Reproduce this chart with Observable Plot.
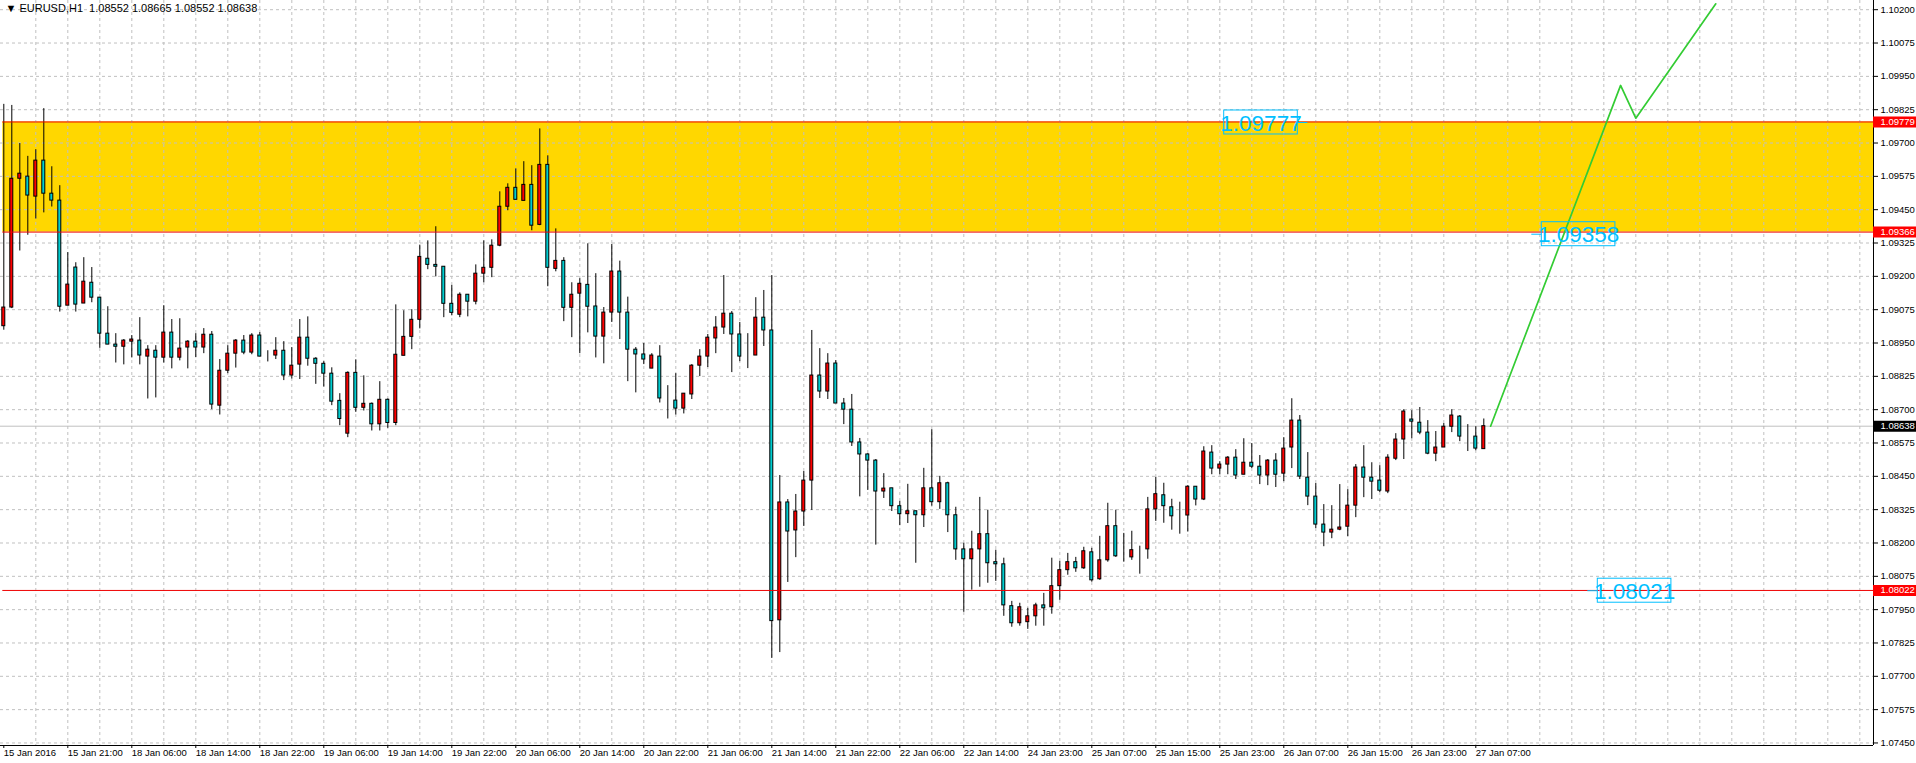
<!DOCTYPE html>
<html><head><meta charset="utf-8">
<script src="https://cdn.jsdelivr.net/npm/d3@7"></script>
<script src="https://cdn.jsdelivr.net/npm/@observablehq/plot@0.6"></script>
<style>html,body{margin:0;padding:0;background:#fff;overflow:hidden}#chart svg{display:block}</style>
</head><body><div id="chart"></div>
<script>
// ---- data ----
const symbolTitle = "EURUSD,H1";
const titleOHLC = ["1.08552", "1.08665", "1.08552", "1.08638"];
const timeLabels = ["15 Jan 2016","15 Jan 21:00","18 Jan 06:00","18 Jan 14:00","18 Jan 22:00","19 Jan 06:00","19 Jan 14:00","19 Jan 22:00","20 Jan 06:00","20 Jan 14:00","20 Jan 22:00","21 Jan 06:00","21 Jan 14:00","21 Jan 22:00","22 Jan 06:00","22 Jan 14:00","24 Jan 23:00","25 Jan 07:00","25 Jan 15:00","25 Jan 23:00","26 Jan 07:00","26 Jan 15:00","26 Jan 23:00","27 Jan 07:00"];
const priceTicks = d3.range(23).map(j => +(1.07450 + 0.00125 * j).toFixed(5));

const openP = [1.09013,1.09083,1.09566,1.09574,1.09499,1.09634,1.09510,1.09484,1.09090,1.09233,
1.09098,1.09176,1.09120,1.08985,1.08944,1.08936,1.08955,1.08959,1.08899,1.08921,
1.08895,1.08989,1.08895,1.08933,1.08955,1.08933,1.08981,1.08715,1.08846,1.08910,
1.08959,1.08914,1.08978,1.08903,1.08903,1.08921,1.08828,1.08869,1.08970,1.08891,
1.08872,1.08835,1.08733,1.08610,1.08838,1.08707,1.08722,1.08645,1.08737,1.08650,
1.08902,1.08973,1.09037,1.09266,1.09243,1.09236,1.09097,1.09056,1.09131,1.09105,
1.09210,1.09232,1.09315,1.09461,1.09532,1.09483,1.09543,1.09393,1.09618,1.09228,
1.09258,1.09082,1.09135,1.09168,1.09087,1.08974,1.09064,1.09218,1.09064,1.08925,
1.08907,1.08854,1.08899,1.08737,1.08734,1.08704,1.08757,1.08865,1.08899,1.08967,
1.09008,1.09060,1.08982,1.08902,1.08903,1.09045,1.08997,1.07910,1.08352,1.08247,
1.08318,1.08434,1.08828,1.08768,1.08873,1.08723,1.08700,1.08577,1.08532,1.08509,
1.08393,1.08405,1.08338,1.08308,1.08319,1.08304,1.08405,1.08353,1.08424,1.08304,
1.08176,1.08139,1.08176,1.08233,1.08128,1.08120,1.07963,1.07899,1.07903,1.07925,
1.07966,1.07959,1.08038,1.08098,1.08128,1.08105,1.08165,1.08064,1.08135,1.08263,
1.08150,1.08146,1.08173,1.08176,1.08326,1.08379,1.08334,1.08300,1.08303,1.08411,
1.08363,1.08539,1.08479,1.08494,1.08520,1.08456,1.08501,1.08486,1.08453,1.08509,
1.08460,1.08558,1.08659,1.08445,1.08374,1.08269,1.08239,1.08250,1.08261,1.08340,
1.08483,1.08445,1.08434,1.08393,1.08516,1.08588,1.08663,1.08651,1.08614,1.08535,
1.08558,1.08636,1.08674,1.08599,1.08599,1.08552];
const highP = [1.09845,1.09841,1.09698,1.09650,1.09675,1.09829,1.09611,1.09540,1.09289,1.09251,
1.09270,1.09233,1.09120,1.09086,1.08985,1.08963,1.08978,1.09045,1.08940,1.08940,
1.09090,1.09038,1.09041,1.08959,1.08985,1.09004,1.08993,1.08888,1.08940,1.08963,
1.08978,1.08985,1.08989,1.08921,1.08970,1.08955,1.08933,1.09038,1.09048,1.08895,
1.08880,1.08857,1.08760,1.08842,1.08887,1.08827,1.08725,1.08805,1.08740,1.09093,
1.09071,1.09075,1.09317,1.09333,1.09386,1.09236,1.09166,1.09138,1.09131,1.09243,
1.09333,1.09337,1.09517,1.09547,1.09603,1.09630,1.09615,1.09753,1.09652,1.09378,
1.09270,1.09176,1.09191,1.09322,1.09210,1.09083,1.09320,1.09257,1.09122,1.08933,
1.08948,1.08910,1.08940,1.08790,1.08835,1.08760,1.08869,1.08925,1.08982,1.09049,
1.09203,1.09068,1.09027,1.08985,1.09120,1.09147,1.09203,1.08453,1.08363,1.08382,
1.08468,1.08997,1.08929,1.08910,1.08884,1.08742,1.08757,1.08592,1.08535,1.08513,
1.08460,1.08405,1.08356,1.08420,1.08319,1.08480,1.08625,1.08450,1.08428,1.08334,
1.08199,1.08244,1.08371,1.08323,1.08173,1.08143,1.07981,1.07974,1.07955,1.07974,
1.08011,1.08143,1.08131,1.08161,1.08146,1.08184,1.08180,1.08225,1.08349,1.08323,
1.08236,1.08244,1.08188,1.08371,1.08446,1.08424,1.08364,1.08353,1.08415,1.08411,
1.08561,1.08565,1.08505,1.08524,1.08550,1.08591,1.08573,1.08528,1.08513,1.08535,
1.08595,1.08741,1.08678,1.08539,1.08423,1.08344,1.08340,1.08419,1.08400,1.08494,
1.08565,1.08501,1.08490,1.08531,1.08610,1.08700,1.08696,1.08708,1.08659,1.08618,
1.08648,1.08700,1.08678,1.08644,1.08636,1.08665];
const lowP = [1.08998,1.09079,1.09295,1.09354,1.09415,1.09438,1.09460,1.09066,1.09090,1.09066,
1.09098,1.09101,1.08930,1.08944,1.08875,1.08868,1.08894,1.08868,1.08740,1.08744,
1.08875,1.08853,1.08883,1.08853,1.08895,1.08910,1.08700,1.08680,1.08835,1.08856,
1.08906,1.08906,1.08899,1.08879,1.08888,1.08809,1.08815,1.08813,1.08863,1.08795,
1.08785,1.08715,1.08640,1.08595,1.08690,1.08695,1.08620,1.08620,1.08630,1.08640,
1.08902,1.08925,1.09003,1.09225,1.09198,1.09045,1.09052,1.09045,1.09048,1.09093,
1.09176,1.09195,1.09311,1.09446,1.09487,1.09483,1.09371,1.09390,1.09161,1.09217,
1.09030,1.08970,1.08910,1.08988,1.08894,1.08872,1.09027,1.08963,1.08805,1.08763,
1.08869,1.08854,1.08725,1.08665,1.08680,1.08684,1.08738,1.08824,1.08858,1.08910,
1.08982,1.08839,1.08880,1.08854,1.08903,1.08937,1.07767,1.07789,1.08052,1.08145,
1.08262,1.08322,1.08742,1.08738,1.08723,1.08644,1.08562,1.08373,1.08397,1.08192,
1.08367,1.08318,1.08265,1.08273,1.08124,1.08258,1.08338,1.08326,1.08239,1.08135,
1.07940,1.08023,1.08034,1.08049,1.08056,1.07925,1.07884,1.07888,1.07876,1.07888,
1.07888,1.07933,1.07985,1.08079,1.08090,1.08101,1.08053,1.08060,1.08128,1.08146,
1.08128,1.08135,1.08083,1.08139,1.08281,1.08274,1.08248,1.08233,1.08241,1.08339,
1.08359,1.08456,1.08456,1.08456,1.08438,1.08456,1.08479,1.08419,1.08415,1.08408,
1.08430,1.08479,1.08438,1.08340,1.08254,1.08186,1.08216,1.08246,1.08224,1.08295,
1.08370,1.08363,1.08389,1.08385,1.08509,1.08513,1.08591,1.08606,1.08531,1.08505,
1.08558,1.08614,1.08580,1.08543,1.08546,1.08552];
const closeP = [1.09083,1.09566,1.09585,1.09503,1.09634,1.09510,1.09484,1.09086,1.09169,1.09094,
1.09180,1.09120,1.08985,1.08944,1.08936,1.08959,1.08963,1.08903,1.08925,1.08895,
1.08989,1.08895,1.08929,1.08955,1.08933,1.08981,1.08719,1.08846,1.08910,1.08959,
1.08914,1.08978,1.08899,1.08903,1.08921,1.08828,1.08865,1.08970,1.08891,1.08872,
1.08835,1.08730,1.08665,1.08838,1.08707,1.08722,1.08645,1.08737,1.08650,1.08906,
1.08973,1.09037,1.09273,1.09243,1.09236,1.09097,1.09063,1.09131,1.09105,1.09210,
1.09232,1.09315,1.09461,1.09532,1.09487,1.09543,1.09390,1.09618,1.09232,1.09258,
1.09082,1.09131,1.09172,1.09086,1.08974,1.09064,1.09218,1.09064,1.08925,1.08907,
1.08888,1.08903,1.08742,1.08737,1.08704,1.08760,1.08865,1.08899,1.08970,1.09008,
1.09060,1.08982,1.08899,1.08902,1.09045,1.08997,1.07907,1.08352,1.08243,1.08318,
1.08434,1.08828,1.08768,1.08873,1.08723,1.08700,1.08577,1.08532,1.08509,1.08393,
1.08404,1.08338,1.08308,1.08319,1.08304,1.08405,1.08353,1.08424,1.08304,1.08176,
1.08139,1.08176,1.08233,1.08124,1.08120,1.07966,1.07899,1.07959,1.07925,1.07966,
1.07955,1.08038,1.08098,1.08128,1.08105,1.08169,1.08060,1.08135,1.08263,1.08150,
1.08150,1.08173,1.08173,1.08326,1.08383,1.08338,1.08300,1.08300,1.08411,1.08363,
1.08543,1.08479,1.08494,1.08520,1.08453,1.08501,1.08486,1.08453,1.08509,1.08456,
1.08554,1.08659,1.08449,1.08374,1.08269,1.08239,1.08250,1.08258,1.08340,1.08483,
1.08445,1.08430,1.08396,1.08520,1.08588,1.08693,1.08655,1.08614,1.08535,1.08558,
1.08636,1.08678,1.08599,1.08599,1.08554,1.08638];

const zoneTop = 1.09779, zoneBottom = 1.09366;
const lineLevels = [1.09779, 1.09366, 1.08022];
const bidLevel = 1.08638;
const projBars = [185.85, 202.1, 204.0, 214.0];
const projPrices = [1.08638, 1.09916, 1.09793, 1.10222];
const tagTexts = ["1.09777", "1.09358", "1.08021"];
const tagValues = [1.09777, 1.09358, 1.08021];
const tagBars = [163, 191, 198];
const tagSides = ["left", "right", "right"];

// ---- chart ----
const W = 1916, H = 763;
const xmin = -0.4125, xmax = 233.7125;
const ymin = 1.074405, ymax = 1.102345;
const bars = openP.map((o, i) => ({i, o, h: highP[i], l: lowP[i], c: closeP[i]}));
const bull = bars.filter(d => d.c >= d.o), bear = bars.filter(d => d.c < d.o);
const tags = tagTexts.map((t, k) => ({text: t, value: tagValues[k], bar: tagBars[k], side: tagSides[k]}));
const lineLen = 1.25, boxLen = 9.2;
const boxX1 = d => d.side === "left" ? d.bar - lineLen - boxLen : d.bar + lineLen;
const boxX2 = d => d.side === "left" ? d.bar - lineLen : d.bar + lineLen + boxLen;
const axisTags = [
  ...lineLevels.map(v => ({value: v, kind: "line"})),
  {value: bidLevel, kind: "bid"}
];
const proj = projBars.map((b, k) => ({bar: b, price: projPrices[k]}));
const grid = {stroke: "#c0c0c0", strokeOpacity: 1, strokeDasharray: "3,3"};

const chart = Plot.plot({
  width: W, height: H,
  marginLeft: 0, marginRight: 43, marginTop: 0, marginBottom: 18,
  x: {type: "linear", domain: [xmin, xmax], label: null},
  y: {type: "linear", domain: [ymin, ymax], label: null},
  style: {fontFamily: "'Liberation Sans', Arial, sans-serif", background: "#fff", overflow: "visible"},
  marks: [
    Plot.rect([0], {x1: () => -0.125, x2: () => xmax, y1: () => zoneBottom, y2: () => zoneTop, fill: "#ffd700"}),
    Plot.gridX(d3.range(4, 234, 4), grid),
    Plot.gridY(priceTicks, grid),
    Plot.ruleY([bidLevel], {stroke: "#c0c0c0"}),
    Plot.ruleX(bars, {x: "i", y1: "l", y2: "h", stroke: "#000"}),
    Plot.rect(bull, {x1: d => d.i - 0.1875, x2: d => d.i + 0.1875, y1: "o", y2: "c", fill: "#ff0000", stroke: "#000"}),
    Plot.rect(bear, {x1: d => d.i - 0.1875, x2: d => d.i + 0.1875, y1: "o", y2: "c", fill: "#00ced1", stroke: "#000"}),
    Plot.ruleY(lineLevels, {x1: () => -0.125, x2: () => xmax, stroke: "#ee0000"}),
    Plot.line(proj, {x: "bar", y: "price", stroke: "#33cc33", strokeWidth: 1.7, clip: true}),
    Plot.ruleY(tags, {y: "value", x1: "bar", x2: d => d.side === "left" ? d.bar - lineLen : d.bar + lineLen, stroke: "#00bfff"}),
    Plot.rect(tags, {x1: boxX1, x2: boxX2, y1: "value", y2: "value", insetTop: -12, insetBottom: -12, fill: "none", stroke: "#00bfff"}),
    Plot.text(tags, {x: d => (boxX1(d) + boxX2(d)) / 2, y: "value", text: "text", fill: "#00bfff", fontSize: 22.5, fontFamily: "'Liberation Sans Narrow', 'Liberation Sans', sans-serif", textAnchor: "middle", dy: 1}),
    Plot.ruleX([xmax], {stroke: "#000"}),
    Plot.ruleY([ymin], {stroke: "#000"}),
    Plot.axisY(priceTicks, {anchor: "right", tickSize: 4, tickPadding: 3, tickFormat: d => d.toFixed(5), fontSize: 9.5, fill: "#000", stroke: "#000"}),
    Plot.axisX(d3.range(0, 185, 8), {anchor: "bottom", tickSize: 3, tickPadding: 1, tickFormat: i => timeLabels[i / 8], textAnchor: "start", dx: 0, fontSize: 9.5, fill: "#000", stroke: "#000"}),
    Plot.ruleY(axisTags, {y: "value", x1: () => xmax, x2: () => xmax + 43 / 8, stroke: d => d.kind === "bid" ? "#000" : "#ff0000", strokeWidth: 11}),
    Plot.text(axisTags, {y: "value", x: () => xmax, text: d => d.value.toFixed(5), dx: 7, textAnchor: "start", fill: "#fff", fontSize: 9.5}),
    Plot.text([`\u25BC ${symbolTitle}  ${titleOHLC.join(" ")}`], {frameAnchor: "top-left", dx: 5, dy: 4, lineAnchor: "top", textAnchor: "start", fontSize: 11, fill: "#000"})
  ]
});
document.getElementById("chart").appendChild(chart);
</script>
</body></html>
